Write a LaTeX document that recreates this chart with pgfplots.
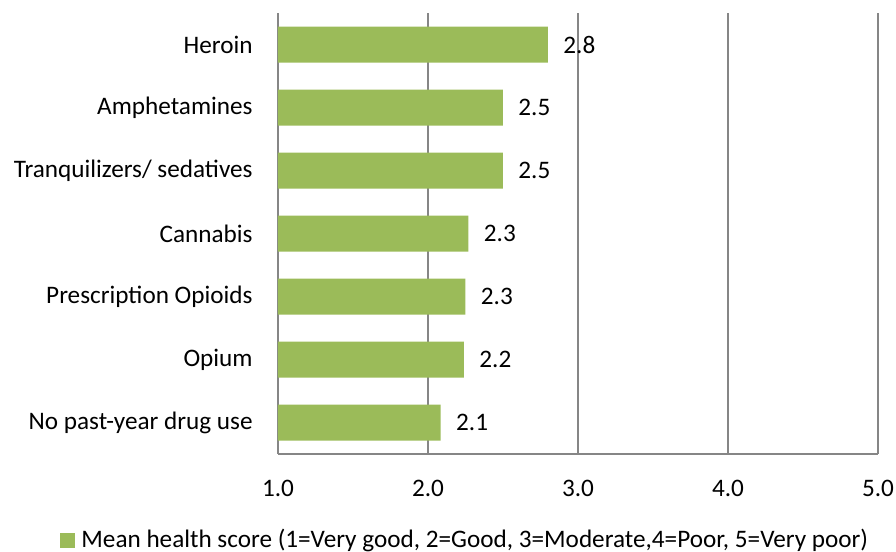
\documentclass[border=0pt]{standalone}
\usepackage{pgfplots}
\pgfplotsset{compat=1.18}
\usepackage{fontspec}
\setmainfont{Carlito}
\definecolor{barg}{HTML}{9BBB59}
\definecolor{gridg}{HTML}{868686}
\newcommand{\cf}{\fontsize{12.6pt}{15pt}\selectfont}
\begin{document}
\cf
\begin{tikzpicture}
\begin{axis}[
  at={(0,0)}, anchor=south west,
  scale only axis, width=300pt, height=220.5pt,
  xbar, bar width=18pt,
  xmin=1, xmax=5, xtick={1,2,3,4,5},
  ymin=-0.5, ymax=6.5, y dir=reverse,
  ytick={0,1,2,3,4,5,6},
  yticklabels={Heroin,Amphetamines,Tranquilizers/ sedatives,Cannabis,Prescription Opioids,Opium,No past-year drug use},
  axis x line*=bottom, axis y line*=left,
  axis line style={draw=gridg, line width=0.75pt, -},
  xmajorgrids, major grid style={draw=gridg, line width=0.75pt},
  major tick length=0pt,
  /pgf/number format/assume math mode=true,
  xticklabel={\pgfmathprintnumber[fixed,fixed zerofill,precision=1]{\tick}},
  xticklabel style={anchor=center, yshift=-17pt, inner sep=0pt, font=\cf},
  yticklabel style={anchor=east, xshift=-12.5pt, inner sep=0pt, font=\cf},
  nodes near coords,
  point meta=explicit symbolic,
  every node near coord/.append style={anchor=west, inner sep=0pt, xshift=7.5pt, font=\cf, black},
  legend style={draw=none, at={(-0.3633,-0.195)}, anchor=west, inner sep=0pt, font=\cf, nodes={inner sep=0pt}},
  legend cell align=left,
  legend image code/.code={\fill[barg] (0pt,-3.75pt) rectangle (7.5pt,3.75pt);},
  clip=false,
]
\addplot[fill=barg, draw=none] table[x=v, y=c, meta=l] {
c v l
0 2.80 2.8
1 2.50 2.5
2 2.50 2.5
3 2.27 2.3
4 2.25 2.3
5 2.24 2.2
6 2.085 2.1
};
\addlegendentry{\hspace*{3pt}Mean health score (1=Very good, 2=Good, 3=Moderate,4=Poor, 5=Very poor)}
\end{axis}
\pgfresetboundingbox
\path[use as bounding box] (-139pt,-49pt) rectangle (309pt,227pt);
\end{tikzpicture}
\end{document}
